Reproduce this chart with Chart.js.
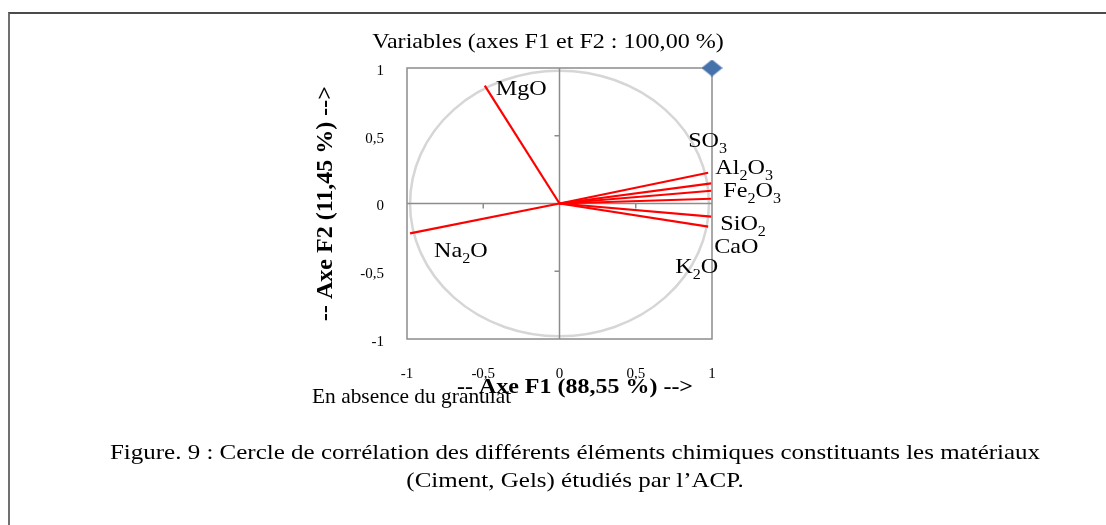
<!DOCTYPE html>
<html>
<head>
<meta charset="utf-8">
<script src="https://cdn.jsdelivr.net/npm/chart.js@4/dist/chart.umd.min.js"></script>
<style>
  html, body { margin: 0; padding: 0; background: #fff; }
  #wrap { position: relative; width: 1106px; height: 525px; overflow: hidden; }
  #frame { position: absolute; left: 8px; top: 12px; right: -10px; bottom: -10px;
           border-left: 2px solid #707070; border-top: 2px solid #4a4a4a; }
  canvas { position: absolute; left: 0; top: 0; }
</style>
</head>
<body>
<div id="wrap">
  <div id="frame"></div>
  <canvas id="acp-canvas" width="1106" height="525"></canvas>
</div>
<script>
// correlation of each variable with F1 / F2
const variables = ['MgO', 'Na2O', 'SO3', 'Al2O3', 'Fe2O3', 'SiO2', 'CaO', 'K2O'];
const f1 = [-0.49, -0.98, 0.975, 0.995, 0.995, 0.995, 0.995, 0.975];
const f2 = [0.87, -0.22, 0.227, 0.149, 0.094, 0.035, -0.097, -0.171];

// lone marker in the top right corner
const markerX = [1];
const markerY = [1];

const axisTicks = [-1, -0.5, 0, 0.5, 1];
const tickLabels = ['-1', '-0,5', '0', '0,5', '1'];
const circleRadius = 0.98;

// where each label sits relative to the arrow tip (px): [dx, dy to baseline]
const labelOffsets = {
  MgO: [11, 9], Na2O: [24, 24], SO3: [-20, -26], Al2O3: [4, -9],
  Fe2O3: [12, 6], SiO2: [9, 31], CaO: [3, 36], K2O: [-33, 46],
};

const SERIF = '"Liberation Serif", "Times New Roman", serif';
// the original figure is a little wider than tall, text included
const STRETCH = 1.15;

function drawText(ctx, text, x, y, font, align, sx = 1) {
  ctx.save();
  ctx.font = font;
  ctx.fillStyle = '#000';
  ctx.textBaseline = 'alphabetic';
  ctx.textAlign = align;
  ctx.translate(x, y);
  ctx.scale(sx, 1);
  ctx.fillText(text, 0, 0);
  ctx.restore();
}

// chemical formula with the digits lowered
function drawFormula(ctx, text, x, y) {
  ctx.save();
  ctx.fillStyle = '#000';
  ctx.textBaseline = 'alphabetic';
  ctx.textAlign = 'left';
  ctx.translate(x, y);
  ctx.scale(STRETCH, 1);
  let cx = 0;
  for (const ch of text) {
    const sub = /[0-9]/.test(ch);
    ctx.font = (sub ? '14px ' : '21px ') + SERIF;
    ctx.fillText(ch, cx, sub ? 6 : 0);
    cx += ctx.measureText(ch).width;
  }
  ctx.restore();
}

function diamond(w, h, color) {
  const c = document.createElement('canvas');
  c.width = w;
  c.height = h;
  const g = c.getContext('2d');
  g.fillStyle = color;
  g.beginPath();
  g.moveTo(w / 2, 0); g.lineTo(w, h / 2); g.lineTo(w / 2, h); g.lineTo(0, h / 2);
  g.closePath();
  g.fill();
  return c;
}

const decor = {
  id: 'decor',
  beforeDatasetsDraw(chart) {
    const { ctx, chartArea: a, scales: { x, y } } = chart;
    const x0 = x.getPixelForValue(0);
    const y0 = y.getPixelForValue(0);
    ctx.save();
    // circle of correlations
    ctx.strokeStyle = '#d6d6d6';
    ctx.lineWidth = 2.5;
    ctx.beginPath();
    ctx.ellipse(x0, y0,
      x.getPixelForValue(circleRadius) - x0,
      y0 - y.getPixelForValue(circleRadius), 0, 0, Math.PI * 2);
    ctx.stroke();
    // frame and zero axes
    ctx.strokeStyle = '#8c8c8c';
    ctx.lineWidth = 1.5;
    ctx.strokeRect(a.left, a.top, a.right - a.left, a.bottom - a.top);
    ctx.beginPath();
    ctx.moveTo(a.left, y0); ctx.lineTo(a.right, y0);
    ctx.moveTo(x0, a.top); ctx.lineTo(x0, a.bottom);
    [-0.5, 0.5].forEach(v => {
      const px = x.getPixelForValue(v);
      ctx.moveTo(px, y0); ctx.lineTo(px, y0 + 5);
      const py = y.getPixelForValue(v);
      ctx.moveTo(x0, py); ctx.lineTo(x0 - 5, py);
    });
    ctx.stroke();
    ctx.restore();
  },
  afterDatasetsDraw(chart) {
    const { ctx, scales: { x, y } } = chart;
    variables.forEach((name, i) => {
      const [dx, dy] = labelOffsets[name];
      drawFormula(ctx, name, x.getPixelForValue(f1[i]) + dx, y.getPixelForValue(f2[i]) + dy);
    });
  },
  afterDraw(chart) {
    const { ctx } = chart;
    drawText(ctx, 'Variables (axes F1 et F2 : 100,00 %)', 548, 48, '21px ' + SERIF, 'center', 1.146);
    drawText(ctx, '-- Axe F1 (88,55 %) -->', 575, 393, 'bold 22px ' + SERIF, 'center', 1.09);
    drawText(ctx, 'En absence du granulat', 312, 403, '21px ' + SERIF, 'left', 1.02);
    drawText(ctx, 'Figure. 9 : Cercle de corrélation des différents éléments chimiques constituants les matériaux',
      575, 459, '21px ' + SERIF, 'center', 1.19);
    drawText(ctx, '(Ciment, Gels) étudiés par l’ACP.', 575, 487, '21px ' + SERIF, 'center', 1.19);
  },
};

function buildDatasets() {
  const vectors = variables.map((name, i) => ({
    label: name,
    data: [{ x: 0, y: 0 }, { x: f1[i], y: f2[i] }],
    showLine: true,
    borderColor: '#ff0000',
    borderWidth: 2.2,
    pointRadius: 0,
  }));
  vectors.push({
    label: 'marker',
    data: markerX.map((v, i) => ({ x: v, y: markerY[i] })),
    pointStyle: diamond(21, 17, '#4672ac'),
    pointRadius: 10,
    clip: false,
  });
  return vectors;
}

function fixedTicks(scale) {
  scale.ticks = axisTicks.map(v => ({ value: v }));
}

function setUpChart() {
  const canvas = document.getElementById('acp-canvas');
  const tickFont = { family: SERIF, size: 15 };

  new Chart(canvas, {
    type: 'scatter',
    data: { datasets: buildDatasets() },
    options: {
      responsive: false,
      animation: false,
      layout: { padding: { left: 311, right: 394, top: 68, bottom: 126 } },
      plugins: { legend: { display: false }, tooltip: { enabled: false } },
      scales: {
        x: {
          type: 'linear', min: -1, max: 1,
          afterBuildTicks: fixedTicks,
          afterFit: s => { s.height = 60; },
          grid: { display: false, drawTicks: false },
          border: { display: false },
          ticks: {
            font: tickFont, color: '#000', padding: 26, maxRotation: 0,
            callback: v => tickLabels[axisTicks.indexOf(v)],
          },
        },
        y: {
          type: 'linear', min: -1, max: 1,
          afterBuildTicks: fixedTicks,
          afterFit: s => { s.width = 96; },
          grid: { display: false, drawTicks: false },
          border: { display: false },
          ticks: {
            font: tickFont, color: '#000', padding: 23, labelOffset: 3,
            callback: v => tickLabels[axisTicks.indexOf(v)],
          },
          title: {
            display: true,
            text: '-- Axe F2 (11,45 %) -->',
            color: '#000',
            font: { family: SERIF, size: 24, weight: 'bold' },
            padding: 0,
          },
        },
      },
    },
    plugins: [decor],
  });
}

setUpChart();
</script>
</body>
</html>
